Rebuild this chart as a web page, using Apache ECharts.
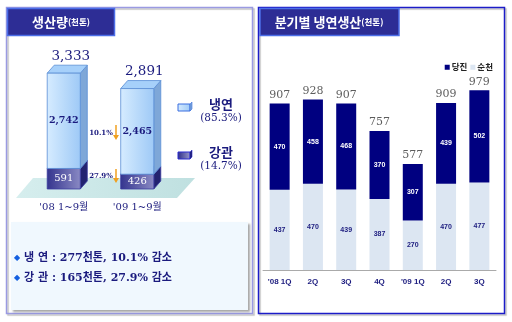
<!DOCTYPE html>
<html><head><meta charset="utf-8">
<script src="https://cdn.jsdelivr.net/npm/echarts@6/dist/echarts.min.js"></script>
<style>html,body{margin:0;padding:0;background:#fff}#c{width:512px;height:322px}</style>
</head><body><div id="c"></div>
<script>
// ---- data ----
const leftCats = ["'08 1~9월", "'09 1~9월"];
const pipeVals = [591, 426];      // 강관
const coldVals = [2742, 2465];    // 냉연
const leftTotals = [3333, 2891];
const changeLabels = ['10.1%', '27.9%'];
const legendLeft = ['냉연', '강관'];
const legendPct = ['(85.3%)', '(14.7%)'];
const notes = ['냉 연 : 277천톤, 10.1% 감소', '강 관 : 165천톤, 27.9% 감소'];
const quarters = ["'08 1Q", "2Q", "3Q", "4Q", "'09 1Q", "2Q", "3Q"];
const suncheon = [437, 470, 439, 387, 270, 470, 477];
const dangjin = [470, 458, 468, 370, 307, 439, 502];
const qTotals = [907, 928, 907, 757, 577, 909, 979];

const NAVY = '#1b1b7e';
const KR = '"Noto Sans CJK KR", sans-serif';
const SERIF = '"DejaVu Serif", "Noto Sans CJK KR", serif';
const fmt = n => String(n).replace(/\B(?=(\d{3})+(?!\d))/g, ',');

function make3D(light) {
  return function (params, api) {
    const i = api.value(0), base = api.value(1), v = api.value(2);
    const pt = api.coord([i, base + v]);
    const pb = api.coord([i, base]);
    const w = api.size([1, 0])[0] * 0.45;
    const x0 = pt[0] - w / 2, x1 = pt[0] + w / 2, yt = pt[1], yb = pb[1];
    const dx = 7, dy = 8;
    const c = light ? {
      side: '#7ea7d8', top: '#a6d0fa', stroke: '#5a8ed6',
      front: new echarts.graphic.LinearGradient(0, 0, 1, 0, [{offset: 0, color: '#d6ecff'}, {offset: 1, color: '#9ec9f6'}]),
      lbl: {fill: NAVY, font: 'bold 9.5px ' + SERIF}
    } : {
      side: '#232370', top: '#4a4aa0', stroke: '#3a3aa0',
      front: new echarts.graphic.LinearGradient(0, 0, 1, 0, [{offset: 0, color: '#34348e'}, {offset: 1, color: '#8a8ac4'}]),
      lbl: {fill: '#ffffff', font: '10px ' + SERIF}
    };
    const children = [
      {type: 'polygon', shape: {points: [[x1, yt], [x1 + dx, yt - dy], [x1 + dx, yb - dy], [x1, yb]]},
        style: {fill: c.side, stroke: c.stroke, lineWidth: 0.8}},
      {type: 'polygon', shape: {points: [[x0, yt], [x1, yt], [x1 + dx, yt - dy], [x0 + dx, yt - dy]]},
        style: {fill: c.top, stroke: c.stroke, lineWidth: 0.8}},
      {type: 'rect', shape: {x: x0, y: yt, width: w, height: yb - yt},
        style: {fill: c.front, stroke: c.stroke, lineWidth: 0.8}},
      {type: 'text', style: Object.assign({text: fmt(v), x: pt[0], y: (yt + yb) / 2, align: 'center', verticalAlign: 'middle'}, c.lbl)}
    ];
    if (light) {
      children.push({type: 'text', style: {text: fmt(leftTotals[i]), x: pt[0] + 7, y: yt - dy - 9,
        align: 'center', verticalAlign: 'middle', fill: NAVY, font: '13.5px ' + SERIF}});
    }
    return {type: 'group', children};
  };
}

function legendBox(x, y, light) {
  const f = light
    ? new echarts.graphic.LinearGradient(0, 0, 1, 0, [{offset: 0, color: '#d6ecff'}, {offset: 1, color: '#9ec9f6'}])
    : new echarts.graphic.LinearGradient(0, 0, 1, 0, [{offset: 0, color: '#2c2c88'}, {offset: 1, color: '#9a9acc'}]);
  const st = light ? '#3a6ee0' : '#2a2ad0';
  return [
    {type: 'rect', shape: {x: x, y: y, width: 12, height: 7}, style: {fill: f, stroke: st, lineWidth: 1}},
    {type: 'polygon', shape: {points: [[x + 12, y], [x + 14, y - 2], [x + 14, y + 5], [x + 12, y + 7]]}, style: {fill: light ? '#7ea7d8' : '#20206a', stroke: st, lineWidth: 0.6}}
  ];
}

const graphics = [
  // panels
  {type: 'rect', shape: {x: 6.5, y: 7.5, width: 246, height: 306}, style: {fill: 'none', stroke: '#9a9ae2', lineWidth: 1.5, shadowColor: 'rgba(0,0,0,0.25)', shadowOffsetX: 1.5, shadowOffsetY: 1.5, shadowBlur: 1}, z: 0},
  {type: 'rect', shape: {x: 258.5, y: 7.5, width: 246, height: 306}, style: {fill: 'none', stroke: '#1c1cc8', lineWidth: 1.5, shadowColor: 'rgba(0,0,0,0.25)', shadowOffsetX: 1.5, shadowOffsetY: 1.5, shadowBlur: 1}, z: 0},
  // title boxes
  {type: 'rect', shape: {x: 7.5, y: 8.5, width: 107, height: 27}, style: {fill: '#2d2d95', stroke: '#4c6ee8', lineWidth: 1.5}, z: 1},
  {type: 'text', x: 61, y: 22, style: {text: '{a|생산량}{b|(천톤)}', align: 'center', verticalAlign: 'middle',
    rich: {a: {fontSize: 13, fontWeight: 'bold', fill: '#fff', fontFamily: KR}, b: {fontSize: 8.5, fontWeight: 'bold', fill: '#fff', fontFamily: KR}}}, z: 2},
  {type: 'rect', shape: {x: 260, y: 8.5, width: 139, height: 27}, style: {fill: '#2d2d95', stroke: '#4c6ee8', lineWidth: 1.5}, z: 1},
  {type: 'text', x: 329, y: 22, style: {text: '{a|분기별 냉연생산}{b|(천톤)}', align: 'center', verticalAlign: 'middle',
    rich: {a: {fontSize: 13, fontWeight: 'bold', fill: '#fff', fontFamily: KR}, b: {fontSize: 8.5, fontWeight: 'bold', fill: '#fff', fontFamily: KR}}}, z: 2},
  // floor
  {type: 'polygon', shape: {points: [[33, 178], [195, 178], [177, 198], [16, 198]]},
    style: {fill: new echarts.graphic.LinearGradient(0, 0, 1, 0, [{offset: 0, color: '#d6eeee'}, {offset: 1, color: '#bfe0e0'}])}, z: 0},
  // change annotations
  {type: 'text', x: 101, y: 133, style: {text: changeLabels[0], align: 'center', verticalAlign: 'middle', fill: NAVY, font: 'bold 7px ' + SERIF}, z: 3},
  {type: 'line', shape: {x1: 116, y1: 125, x2: 116, y2: 136}, style: {stroke: '#f0a020', lineWidth: 1.5}, z: 3},
  {type: 'polygon', shape: {points: [[113, 135], [119, 135], [116, 140]]}, style: {fill: '#f0a020'}, z: 3},
  {type: 'text', x: 101, y: 176, style: {text: changeLabels[1], align: 'center', verticalAlign: 'middle', fill: NAVY, font: 'bold 7px ' + SERIF}, z: 3},
  {type: 'line', shape: {x1: 116, y1: 169, x2: 116, y2: 179}, style: {stroke: '#f0a020', lineWidth: 1.5}, z: 3},
  {type: 'polygon', shape: {points: [[113, 178], [119, 178], [116, 183]]}, style: {fill: '#f0a020'}, z: 3},
  // left legend
  ...legendBox(178, 104, true).map(e => Object.assign(e, {z: 3})),
  ...legendBox(178, 152, false).map(e => Object.assign(e, {z: 3})),
  {type: 'text', x: 221, y: 104, style: {text: legendLeft[0], align: 'center', verticalAlign: 'middle', fill: NAVY, font: 'bold 13px ' + KR}, z: 3},
  {type: 'text', x: 221, y: 118, style: {text: legendPct[0], align: 'center', verticalAlign: 'middle', fill: NAVY, font: '10.5px ' + SERIF}, z: 3},
  {type: 'text', x: 221, y: 152, style: {text: legendLeft[1], align: 'center', verticalAlign: 'middle', fill: NAVY, font: 'bold 13px ' + KR}, z: 3},
  {type: 'text', x: 221, y: 166, style: {text: legendPct[1], align: 'center', verticalAlign: 'middle', fill: NAVY, font: '10.5px ' + SERIF}, z: 3},
  // notes box
  {type: 'rect', shape: {x: 11, y: 222, width: 237, height: 88}, style: {fill: '#f0f8fe', shadowColor: 'rgba(0,0,0,0.35)', shadowOffsetX: 2, shadowOffsetY: 2, shadowBlur: 2}, z: 1},
  {type: 'text', x: 17, y: 258, style: {text: '◆', align: 'center', verticalAlign: 'middle', fill: '#1560e0', font: '8px ' + SERIF}, z: 3},
  {type: 'text', x: 24, y: 258, style: {text: notes[0], align: 'left', verticalAlign: 'middle', fill: NAVY, font: 'bold 11px ' + SERIF}, z: 3},
  {type: 'text', x: 17, y: 278, style: {text: '◆', align: 'center', verticalAlign: 'middle', fill: '#1560e0', font: '8px ' + SERIF}, z: 3},
  {type: 'text', x: 24, y: 278, style: {text: notes[1], align: 'left', verticalAlign: 'middle', fill: NAVY, font: 'bold 11px ' + SERIF}, z: 3}
];

const chart = echarts.init(document.getElementById('c'), null, {renderer: 'canvas'});
chart.setOption({
  animation: false,
  backgroundColor: '#fff',
  graphic: graphics,
  legend: {
    data: ['당진', '순천'], right: 14, top: 58, itemWidth: 5, itemHeight: 5, itemGap: 3,
    icon: 'rect', textStyle: {fontSize: 8.5, fontWeight: 'bold', color: '#222', fontFamily: KR, padding: [0, 0, 0, -3]}
  },
  grid: [
    {left: 27, top: 50, width: 147, height: 139},
    {left: 263, top: 68, width: 233, height: 202}
  ],
  xAxis: [
    {type: 'category', gridIndex: 0, data: leftCats, axisLine: {show: false}, axisTick: {show: false},
      axisLabel: {color: NAVY, fontSize: 10, fontFamily: SERIF, margin: 13}},
    {type: 'category', gridIndex: 1, data: quarters,
      axisLine: {lineStyle: {color: '#aaaaaa'}}, axisTick: {length: 4, lineStyle: {color: '#aaaaaa'}},
      axisLabel: {color: NAVY, fontSize: 8, fontWeight: 'bold', fontFamily: '"Liberation Sans", Arial, sans-serif', margin: 8}}
  ],
  yAxis: [
    {type: 'value', gridIndex: 0, min: 0, max: 4000, show: false},
    {type: 'value', gridIndex: 1, min: 0, max: 1100, show: false}
  ],
  series: [
    {name: '강관', type: 'custom', xAxisIndex: 0, yAxisIndex: 0, renderItem: make3D(false),
      encode: {x: 0, y: 2}, data: pipeVals.map((v, i) => [i, 0, v]), z: 3},
    {name: '냉연', type: 'custom', xAxisIndex: 0, yAxisIndex: 0, renderItem: make3D(true),
      encode: {x: 0, y: 2}, data: coldVals.map((v, i) => [i, pipeVals[i], v]), z: 4},
    {name: '순천', type: 'bar', stack: 'q', xAxisIndex: 1, yAxisIndex: 1, barWidth: 20, data: suncheon,
      itemStyle: {color: '#dce6f2'},
      label: {show: true, position: 'inside', color: NAVY, fontSize: 7, fontWeight: 'bold', fontFamily: '"Liberation Sans", Arial, sans-serif'}},
    {name: '당진', type: 'bar', stack: 'q', xAxisIndex: 1, yAxisIndex: 1, barWidth: 20, data: dangjin,
      itemStyle: {color: '#000080'},
      label: {show: true, position: 'inside', color: '#fff', fontSize: 7, fontWeight: 'bold', fontFamily: '"Liberation Sans", Arial, sans-serif'}},
    {name: 'total', type: 'scatter', xAxisIndex: 1, yAxisIndex: 1, data: qTotals, symbolSize: 0.1,
      itemStyle: {color: 'rgba(0,0,0,0)'},
      label: {show: true, position: 'top', distance: 3, color: '#333', fontSize: 11, fontFamily: SERIF}}
  ]
});
</script></body></html>
